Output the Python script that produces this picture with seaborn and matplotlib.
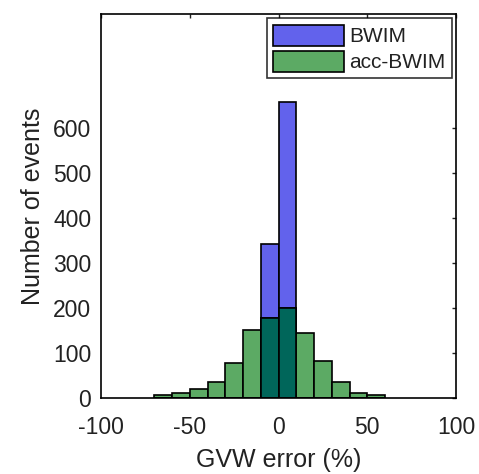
import numpy as np
import pandas as pd
import matplotlib
matplotlib.use("Agg")
import matplotlib.pyplot as plt
import seaborn as sns

# bins de 10% de -70 a 60 (GVW error, %)
centros = [-65, -55, -45, -35, -25, -15, -5, 5, 15, 25, 35, 45, 55]

# contagens
bwim = [0, 0, 0, 0, 0, 0, 341, 658, 0, 0, 0, 0, 0]
acc_bwim = [7, 11, 20, 35, 78, 152, 177, 201, 144, 83, 35, 11, 7]

cor_bwim = "#6262ec"
cor_acc = "#5caa64"
cor_sobre = "#00665a"

sns.set_style("white")
plt.rcParams["font.family"] = ["Liberation Sans", "DejaVu Sans"]
plt.rcParams["axes.unicode_minus"] = False

df = pd.DataFrame({"centro": centros, "BWIM": bwim, "acc-BWIM": acc_bwim})
df["sobreposicao"] = np.minimum(df["BWIM"], df["acc-BWIM"])

fig = plt.figure(figsize=(4.79, 4.74), dpi=100)
ax = fig.add_axes([0.211, 0.160, 0.741, 0.810])

kw = dict(x="centro", binwidth=10, binrange=(-70, 60), edgecolor="black",
          linewidth=1.2, alpha=1, ax=ax)
sns.histplot(data=df, weights="BWIM", color=cor_bwim, label="BWIM", **kw)
sns.histplot(data=df, weights="acc-BWIM", color=cor_acc, label="acc-BWIM", **kw)
sns.histplot(data=df, weights="sobreposicao", color=cor_sobre, label="_nolegend_", **kw)

ax.set_xlim(-100, 100)
ax.set_ylim(0, 852)
ax.set_xticks([-100, -50, 0, 50, 100])
ax.set_yticks([0, 100, 200, 300, 400, 500, 600])
ax.set_xlabel("GVW error (%)", fontsize=18, labelpad=6, color="#222222")
ax.set_ylabel("Number of events", fontsize=18, labelpad=6, color="#222222")
ax.tick_params(direction="in", length=3, width=1, top=True, right=True,
               labelsize=16.5, colors="#222222")
ax.tick_params(axis="x", pad=13)
ax.tick_params(axis="y", pad=7)
for s in ax.spines.values():
    s.set_visible(True)
    s.set_color("black")
    s.set_linewidth(1.2)

leg = ax.legend(loc="upper right", fontsize=15, frameon=True, fancybox=False,
                edgecolor="black", handlelength=3.4, handleheight=1.2,
                borderaxespad=0.2, handletextpad=0.25, labelspacing=0.2,
                borderpad=0.3)
leg.get_frame().set_linewidth(1.2)
for t in leg.get_texts():
    t.set_color("#222222")

fig.savefig("out.png", dpi=100)
